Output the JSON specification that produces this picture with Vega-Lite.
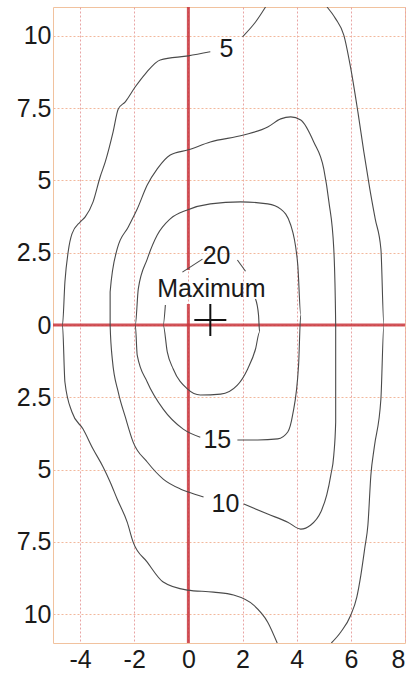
{
  "$schema": "https://vega.github.io/schema/vega-lite/v6.json",
  "width": 352,
  "height": 636,
  "autosize": "none",
  "padding": {"left": 53, "top": 7, "right": 11, "bottom": 33},
  "background": "white",
  "config": {
    "view": {"stroke": "#f1c29e", "strokeWidth": 1},
    "font": "Liberation Sans",
    "axis": {"labelFont": "Liberation Sans", "labelFontSize": 25, "labelColor": "#1a1a1a", "ticks": false, "domain": false, "title": null, "gridDash": [2, 2], "gridWidth": 1}
  },
  "datasets": {
    "contours": [
      {"c": "5a", "i": 0, "x": 2.85, "y": 11.0},
      {"c": "5a", "i": 1, "x": 2.48, "y": 10.48},
      {"c": "5a", "i": 2, "x": 2.0, "y": 9.97},
      {"c": "5b", "i": 0, "x": 0.81, "y": 9.45},
      {"c": "5b", "i": 1, "x": 0.0, "y": 9.31},
      {"c": "5b", "i": 2, "x": -1.04, "y": 9.17},
      {"c": "5b", "i": 3, "x": -1.59, "y": 8.69},
      {"c": "5b", "i": 4, "x": -1.96, "y": 8.24},
      {"c": "5b", "i": 5, "x": -2.33, "y": 7.72},
      {"c": "5b", "i": 6, "x": -2.59, "y": 7.47},
      {"c": "5b", "i": 7, "x": -2.78, "y": 6.68},
      {"c": "5b", "i": 8, "x": -3.07, "y": 5.64},
      {"c": "5b", "i": 9, "x": -3.26, "y": 5.12},
      {"c": "5b", "i": 10, "x": -3.52, "y": 4.26},
      {"c": "5b", "i": 11, "x": -3.81, "y": 3.74},
      {"c": "5b", "i": 12, "x": -4.0, "y": 3.56},
      {"c": "5b", "i": 13, "x": -4.3, "y": 3.15},
      {"c": "5b", "i": 14, "x": -4.44, "y": 2.53},
      {"c": "5b", "i": 15, "x": -4.56, "y": 1.49},
      {"c": "5b", "i": 16, "x": -4.65, "y": 0.0},
      {"c": "5b", "i": 17, "x": -4.56, "y": -1.97},
      {"c": "5b", "i": 18, "x": -4.3, "y": -3.01},
      {"c": "5b", "i": 19, "x": -3.89, "y": -3.6},
      {"c": "5b", "i": 20, "x": -3.52, "y": -4.29},
      {"c": "5b", "i": 21, "x": -3.15, "y": -4.91},
      {"c": "5b", "i": 22, "x": -2.89, "y": -5.43},
      {"c": "5b", "i": 23, "x": -2.63, "y": -6.02},
      {"c": "5b", "i": 24, "x": -2.26, "y": -6.82},
      {"c": "5b", "i": 25, "x": -2.04, "y": -7.51},
      {"c": "5b", "i": 26, "x": -1.52, "y": -8.2},
      {"c": "5b", "i": 27, "x": -0.93, "y": -8.89},
      {"c": "5b", "i": 28, "x": -0.04, "y": -9.17},
      {"c": "5b", "i": 29, "x": 0.93, "y": -9.24},
      {"c": "5b", "i": 30, "x": 1.67, "y": -9.34},
      {"c": "5b", "i": 31, "x": 2.41, "y": -9.69},
      {"c": "5b", "i": 32, "x": 2.93, "y": -10.28},
      {"c": "5b", "i": 33, "x": 3.28, "y": -11.0},
      {"c": "5c", "i": 0, "x": 5.28, "y": -11.0},
      {"c": "5c", "i": 1, "x": 5.63, "y": -10.62},
      {"c": "5c", "i": 2, "x": 6.0, "y": -10.03},
      {"c": "5c", "i": 3, "x": 6.22, "y": -9.41},
      {"c": "5c", "i": 4, "x": 6.37, "y": -8.65},
      {"c": "5c", "i": 5, "x": 6.52, "y": -7.68},
      {"c": "5c", "i": 6, "x": 6.63, "y": -6.92},
      {"c": "5c", "i": 7, "x": 6.74, "y": -5.19},
      {"c": "5c", "i": 8, "x": 6.87, "y": -4.2},
      {"c": "5c", "i": 9, "x": 7.11, "y": -2.56},
      {"c": "5c", "i": 10, "x": 7.22, "y": 0.0},
      {"c": "5c", "i": 11, "x": 7.11, "y": 2.63},
      {"c": "5c", "i": 12, "x": 6.9, "y": 3.67},
      {"c": "5c", "i": 13, "x": 6.7, "y": 4.71},
      {"c": "5c", "i": 14, "x": 6.48, "y": 5.99},
      {"c": "5c", "i": 15, "x": 6.26, "y": 7.37},
      {"c": "5c", "i": 16, "x": 6.0, "y": 8.86},
      {"c": "5c", "i": 17, "x": 5.74, "y": 10.03},
      {"c": "5c", "i": 18, "x": 5.44, "y": 10.59},
      {"c": "5c", "i": 19, "x": 5.12, "y": 11.0},
      {"c": "10", "i": 0, "x": 2.04, "y": -6.19},
      {"c": "10", "i": 1, "x": 2.93, "y": -6.54},
      {"c": "10", "i": 2, "x": 3.67, "y": -6.82},
      {"c": "10", "i": 3, "x": 4.15, "y": -7.06},
      {"c": "10", "i": 4, "x": 4.52, "y": -6.92},
      {"c": "10", "i": 5, "x": 4.89, "y": -6.47},
      {"c": "10", "i": 6, "x": 5.11, "y": -5.88},
      {"c": "10", "i": 7, "x": 5.26, "y": -5.19},
      {"c": "10", "i": 8, "x": 5.37, "y": -4.5},
      {"c": "10", "i": 9, "x": 5.44, "y": -3.36},
      {"c": "10", "i": 10, "x": 5.44, "y": -2.56},
      {"c": "10", "i": 11, "x": 5.44, "y": 0.0},
      {"c": "10", "i": 12, "x": 5.37, "y": 2.63},
      {"c": "10", "i": 13, "x": 5.19, "y": 4.26},
      {"c": "10", "i": 14, "x": 5.0, "y": 5.4},
      {"c": "10", "i": 15, "x": 4.63, "y": 6.33},
      {"c": "10", "i": 16, "x": 4.15, "y": 7.09},
      {"c": "10", "i": 17, "x": 3.78, "y": 7.2},
      {"c": "10", "i": 18, "x": 3.41, "y": 7.13},
      {"c": "10", "i": 19, "x": 2.93, "y": 6.85},
      {"c": "10", "i": 20, "x": 2.04, "y": 6.57},
      {"c": "10", "i": 21, "x": 0.81, "y": 6.33},
      {"c": "10", "i": 22, "x": 0.0, "y": 6.06},
      {"c": "10", "i": 23, "x": -0.67, "y": 5.88},
      {"c": "10", "i": 24, "x": -1.15, "y": 5.4},
      {"c": "10", "i": 25, "x": -1.52, "y": 4.84},
      {"c": "10", "i": 26, "x": -1.89, "y": 4.01},
      {"c": "10", "i": 27, "x": -2.22, "y": 3.39},
      {"c": "10", "i": 28, "x": -2.63, "y": 2.63},
      {"c": "10", "i": 29, "x": -2.89, "y": 1.14},
      {"c": "10", "i": 30, "x": -2.89, "y": 0.0},
      {"c": "10", "i": 31, "x": -2.81, "y": -1.18},
      {"c": "10", "i": 32, "x": -2.59, "y": -2.32},
      {"c": "10", "i": 33, "x": -2.33, "y": -3.18},
      {"c": "10", "i": 34, "x": -2.04, "y": -4.05},
      {"c": "10", "i": 35, "x": -1.52, "y": -4.74},
      {"c": "10", "i": 36, "x": -0.93, "y": -5.33},
      {"c": "10", "i": 37, "x": -0.3, "y": -5.67},
      {"c": "10", "i": 38, "x": 0.0, "y": -5.78},
      {"c": "10", "i": 39, "x": 0.56, "y": -5.95},
      {"c": "15", "i": 0, "x": 1.81, "y": -3.98},
      {"c": "15", "i": 1, "x": 2.56, "y": -3.98},
      {"c": "15", "i": 2, "x": 3.3, "y": -3.94},
      {"c": "15", "i": 3, "x": 3.67, "y": -3.7},
      {"c": "15", "i": 4, "x": 3.85, "y": -3.11},
      {"c": "15", "i": 5, "x": 4.07, "y": -1.38},
      {"c": "15", "i": 6, "x": 4.15, "y": 0.35},
      {"c": "15", "i": 7, "x": 4.04, "y": 2.08},
      {"c": "15", "i": 8, "x": 3.78, "y": 3.46},
      {"c": "15", "i": 9, "x": 3.41, "y": 4.01},
      {"c": "15", "i": 10, "x": 2.93, "y": 4.19},
      {"c": "15", "i": 11, "x": 1.93, "y": 4.26},
      {"c": "15", "i": 12, "x": 0.81, "y": 4.19},
      {"c": "15", "i": 13, "x": -0.04, "y": 3.98},
      {"c": "15", "i": 14, "x": -0.67, "y": 3.67},
      {"c": "15", "i": 15, "x": -1.15, "y": 3.11},
      {"c": "15", "i": 16, "x": -1.52, "y": 2.28},
      {"c": "15", "i": 17, "x": -1.85, "y": 1.25},
      {"c": "15", "i": 18, "x": -1.96, "y": 0.0},
      {"c": "15", "i": 19, "x": -1.89, "y": -1.04},
      {"c": "15", "i": 20, "x": -1.52, "y": -1.97},
      {"c": "15", "i": 21, "x": -0.93, "y": -2.91},
      {"c": "15", "i": 22, "x": -0.19, "y": -3.6},
      {"c": "15", "i": 23, "x": 0.44, "y": -3.88},
      {"c": "20a", "i": 0, "x": 1.81, "y": 2.25},
      {"c": "20a", "i": 1, "x": 2.11, "y": 1.86},
      {"c": "20b", "i": 0, "x": 2.48, "y": 0.9},
      {"c": "20b", "i": 1, "x": 2.59, "y": 0.35},
      {"c": "20b", "i": 2, "x": 2.63, "y": -0.24},
      {"c": "20b", "i": 3, "x": 2.48, "y": -0.83},
      {"c": "20b", "i": 4, "x": 2.19, "y": -1.52},
      {"c": "20b", "i": 5, "x": 1.81, "y": -2.08},
      {"c": "20b", "i": 6, "x": 1.19, "y": -2.39},
      {"c": "20b", "i": 7, "x": 0.44, "y": -2.42},
      {"c": "20b", "i": 8, "x": -0.04, "y": -2.21},
      {"c": "20b", "i": 9, "x": -0.56, "y": -1.52},
      {"c": "20b", "i": 10, "x": -0.78, "y": -0.93},
      {"c": "20b", "i": 11, "x": -0.93, "y": 0.0},
      {"c": "20b", "i": 12, "x": -0.85, "y": 0.69},
      {"c": "20c", "i": 0, "x": -0.22, "y": 1.83},
      {"c": "20c", "i": 1, "x": 0.52, "y": 2.28}
    ],
    "labels": [
      {"t": "5", "x": 1.41, "y": 9.55},
      {"t": "10", "x": 1.37, "y": -6.19},
      {"t": "15", "x": 1.07, "y": -3.98},
      {"t": "20", "x": 1.04, "y": 2.39},
      {"t": "Maximum", "x": 0.85, "y": 1.25}
    ],
    "vaxis": [
      {"x": 0, "y": 11, "y2": 1.9},
      {"x": 0, "y": 0.73, "y2": -11}
    ],
    "haxis": [{"y": 0, "x": -5, "x2": 8}],
    "maximum": [{"x": 0.81, "y": 0.17}]
  },
  "layer": [
    {
      "data": {"name": "haxis"},
      "mark": {"type": "rule", "color": "#c9353c", "strokeWidth": 3, "opacity": 0.85},
      "encoding": {
        "y": {"field": "y", "type": "quantitative", "scale": {"domain": [-11, 11], "nice": false, "zero": false},
          "axis": {"values": [-10, -7.5, -5, -2.5, 0, 2.5, 5, 7.5, 10], "labelExpr": "abs(datum.value) + ''", "labelPadding": 2, "gridColor": "#f2b89c", "grid": true}},
        "x": {"field": "x", "type": "quantitative", "scale": {"domain": [-5, 8], "nice": false, "zero": false},
          "axis": {"values": [-4, -2, 0, 2, 4, 6, 8], "labelExpr": "datum.value + ''", "labelPadding": 4, "gridColor": "#e8a4a4", "grid": true}},
        "x2": {"field": "x2"}
      }
    },
    {
      "data": {"name": "vaxis"},
      "mark": {"type": "rule", "color": "#c9353c", "strokeWidth": 3, "opacity": 0.85},
      "encoding": {
        "x": {"field": "x", "type": "quantitative"},
        "y": {"field": "y", "type": "quantitative"},
        "y2": {"field": "y2"}
      }
    },
    {
      "data": {"name": "contours"},
      "mark": {"type": "line", "color": "#4a4a4a", "strokeWidth": 1.1, "clip": true, "interpolate": "monotone"},
      "encoding": {
        "x": {"field": "x", "type": "quantitative"},
        "y": {"field": "y", "type": "quantitative"},
        "detail": {"field": "c"},
        "order": {"field": "i", "type": "quantitative"}
      }
    },
    {
      "data": {"name": "labels"},
      "mark": {"type": "text", "fontSize": 25, "color": "#1a1a1a", "align": "center", "baseline": "middle", "font": "Liberation Sans"},
      "encoding": {
        "x": {"field": "x", "type": "quantitative"},
        "y": {"field": "y", "type": "quantitative"},
        "text": {"field": "t"}
      }
    },
    {
      "data": {"name": "maximum"},
      "mark": {"type": "point", "shape": "M-1,0L1,0M0,-1L0,1", "size": 1024, "filled": false, "stroke": "#111111", "strokeWidth": 2, "opacity": 1},
      "encoding": {
        "x": {"field": "x", "type": "quantitative"},
        "y": {"field": "y", "type": "quantitative"}
      }
    }
  ]
}
